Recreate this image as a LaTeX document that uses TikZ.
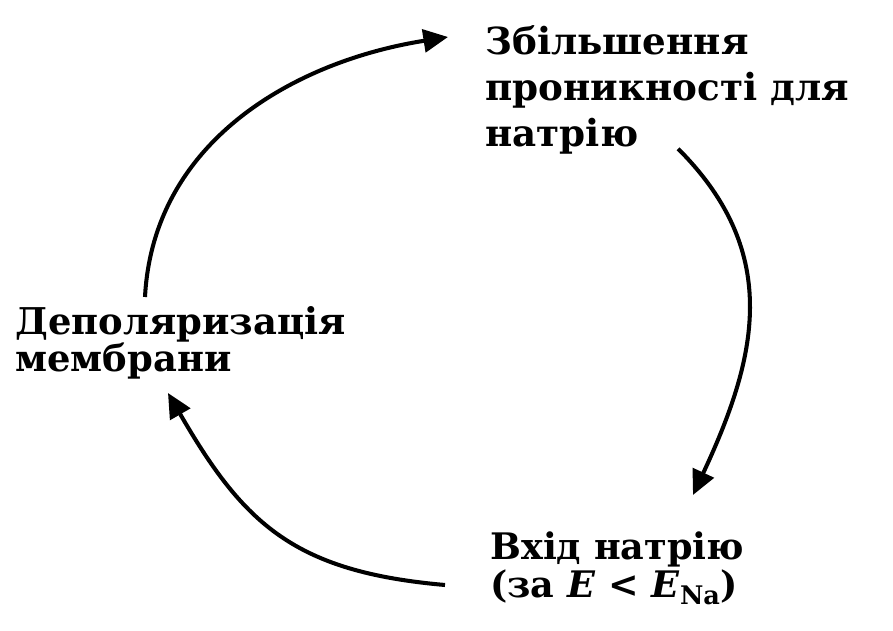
\documentclass[tikz,border=0pt]{standalone}
\usepackage{fontspec}
\setmainfont{DejaVu Serif}
\usepackage{tikz}
\usetikzlibrary{positioning,arrows.meta}

\begin{document}
\begin{tikzpicture}[
    lbl/.style={font=\bfseries\fontsize{21.2}{26.3}\selectfont, align=left, inner sep=0pt, anchor=north west},
    cyc/.style={-{Triangle[length=14pt,width=13pt]}, line width=2.3pt}
]
    \useasboundingbox (0,0) rectangle (17.86,-12.62);

    % three stages of the cycle
    \node[lbl] (zb) at (9.70,-0.50) {Збільшення\\проникності для\\натрію};
    \node[lbl, font=\bfseries\fontsize{21}{21}\selectfont] (dep) at (0.30,-6.12) {Деполяризація\\мембрани};
    \node[lbl, font=\bfseries\fontsize{20.8}{22.1}\selectfont] (vh) at (9.80,-10.62)
        {Вхід натрію\\(за \textit{E} < \textit{E}\textsubscript{Na})};

    % arrows round the circle
    \draw[cyc] ([shift={(2.60,0.18)}]dep.north west) to[out=87, in=-171] ([shift={(-0.74,-0.24)}]zb.north west);
    \draw[cyc] ([shift={(0.22,0.12)}]zb.south) to[out=-45, in=65, looseness=1.1] ([shift={(4.06,0.72)}]vh.north west);
    \draw[cyc] ([shift={(-0.90,-1.08)}]vh.north west) to[out=175, in=-60, looseness=1.15] ([shift={(3.06,-1.74)}]dep.north west);
\end{tikzpicture}
\end{document}
